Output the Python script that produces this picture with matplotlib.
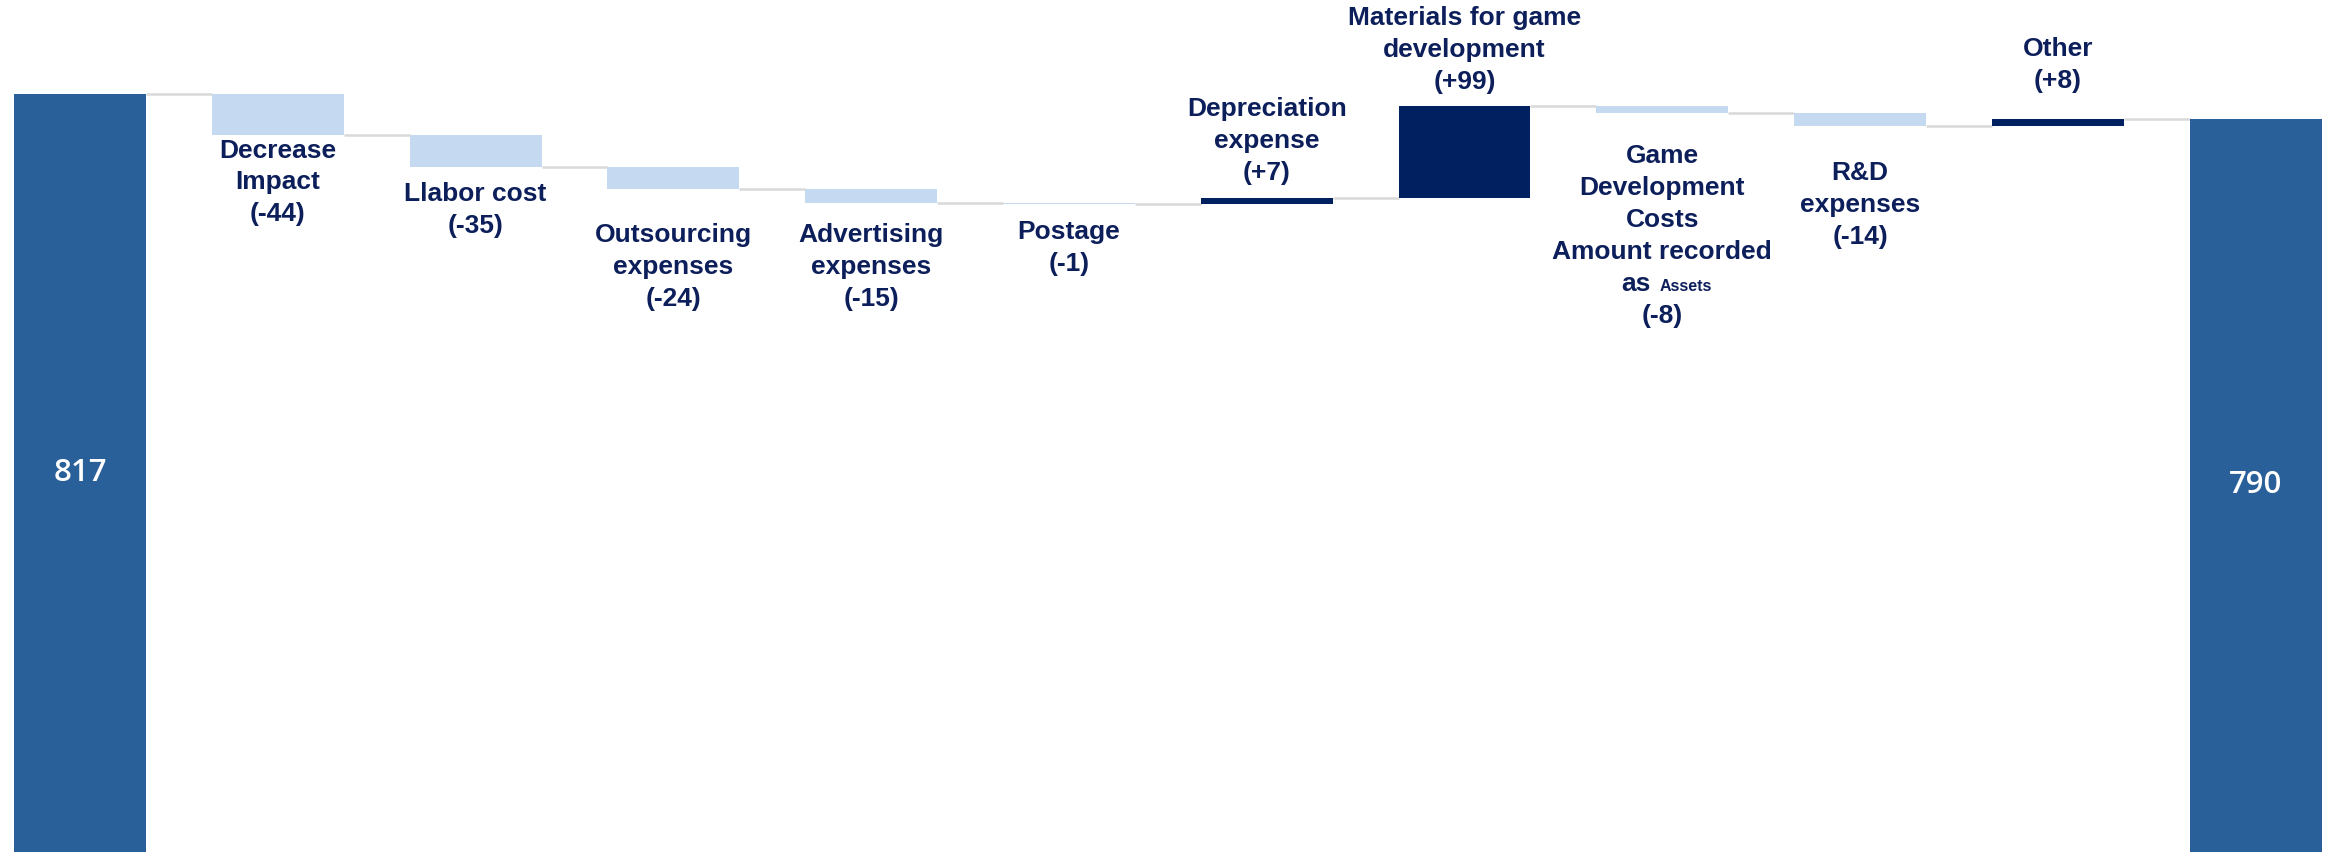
import numpy as np
import matplotlib.pyplot as plt

# opening / closing totals and the movements between them
start_total = 817
end_total = 790
categories = [
    "Decrease\nImpact",
    "Llabor cost",
    "Outsourcing\nexpenses",
    "Advertising\nexpenses",
    "Postage",
    "Depreciation\nexpense",
    "Materials for game\ndevelopment",
    "Game\nDevelopment\nCosts\nAmount recorded\nas Assets",
    "R&D\nexpenses",
    "Other",
]
changes = [-44, -35, -24, -15, -1, 7, 99, -8, -14, 8]

# gap (pt) between a bar's end and the nearest line of its label
label_gap = [11.5, 19.5, 33, 23, 20, 18, 17, 31, 34, 27]

total_color = "#2A6099"
down_color = "#C5D9F1"
up_color = "#002060"
text_color = "#0C1F5B"
link_color = "#D9D9D9"

width = 0.667
line_pitch = 23.0   # pt between label lines
font = "Liberation Sans"

changes = np.array(changes)
after = start_total + np.cumsum(changes)
before = after - changes
xs = np.arange(1, len(changes) + 1)
end_x = len(changes) + 1

fig = plt.figure(figsize=(23.36, 8.52), dpi=100)
ax = fig.add_axes([0, 0, 1, 1])

ax.bar(0, start_total, width=width, color=total_color)
ax.bar(end_x, end_total, width=width, color=total_color)
ax.bar(xs, np.abs(changes), bottom=np.minimum(before, after), width=width,
       color=[up_color if c > 0 else down_color for c in changes])

# connector lines between neighbouring bars
levels = np.concatenate([[start_total], after])
for i, lvl in enumerate(levels):
    ax.plot([i + width / 2, i + 1 - width / 2], [lvl, lvl],
            color=link_color, lw=1.8, solid_capstyle="butt", zorder=0)

# totals written inside the big bars
for x, v in [(0, start_total), (end_x, end_total)]:
    ax.text(x, v / 2, str(v), color="white", ha="center", va="center",
            fontsize=22.5, fontfamily="Open Sans", fontweight="semibold")

# category labels with the movement in brackets
for x, name, c, b, a, gap in zip(xs, categories, changes, before, after, label_gap):
    lines = name.split("\n") + [f"({c:+d})"]
    if c < 0:
        anchor = min(b, a)
        offsets = [-gap - i * line_pitch for i in range(len(lines))]
    else:
        anchor = max(b, a)
        n = len(lines)
        offsets = [gap + (n - 1 - i) * line_pitch for i in range(n)]
    for line, dy in zip(lines, offsets):
        if line == "as Assets":
            word, small = line.split(" ")
            ax.annotate(word, (x, anchor), xytext=(-8.4, dy - 5),
                        textcoords="offset points", ha="right", va="baseline",
                        fontsize=19, fontweight="bold", fontfamily=font,
                        color=text_color)
            ax.annotate(small, (x, anchor), xytext=(-1.9, dy - 5),
                        textcoords="offset points", ha="left", va="baseline",
                        fontsize=11.5, fontweight="bold", fontfamily=font,
                        color=text_color)
            continue
        ax.annotate(line, (x, anchor), xytext=(0, dy),
                    textcoords="offset points", ha="center", va="center",
                    fontsize=19, fontweight="bold", fontfamily=font,
                    color=text_color)

ax.set_xlim(-0.4045, 11.406)
ax.set_ylim(0, 918)
ax.axis("off")

fig.savefig("out.png", dpi=100)
